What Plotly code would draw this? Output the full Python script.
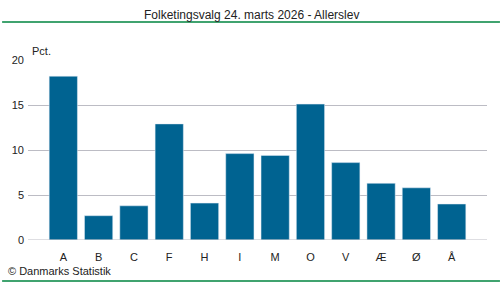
import plotly.graph_objects as go

parties = ["A", "B", "C", "F", "H", "I", "M", "O", "V", "Æ", "Ø", "Å"]
values = [18.2, 2.7, 3.8, 12.9, 4.1, 9.6, 9.4, 15.1, 8.6, 6.3, 5.8, 4.0]
y_ticks = [0, 5, 10, 15, 20]

W, H = 500, 282
ML, MR, MT, MB = 26, 13, 60, 42
PW, PH = W - ML - MR, H - MT - MB

def px_x(px):
    return (px - ML) / PW

def px_y(py):
    return (H - MB - py) / PH

font = "Liberation Sans, Arial, sans-serif"
fig = go.Figure(go.Bar(x=list(range(len(parties))), y=values, marker_color="#006391",
                       width=0.8, hoverinfo="skip"))

fig.update_layout(
    width=W, height=H, margin=dict(l=ML, r=MR, t=MT, b=MB),
    paper_bgcolor="white", plot_bgcolor="white", showlegend=False,
    font=dict(family=font, size=11, color="#222"),
    xaxis=dict(range=[-1, 12], tickmode="array", tickvals=list(range(len(parties))),
               ticktext=parties, showgrid=False, zeroline=False, showline=False,
               ticks="", ticklen=0, ticklabelstandoff=9, tickfont=dict(size=11)),
    yaxis=dict(range=[0, 20], tickvals=y_ticks, showgrid=True, gridcolor="#bcbcc4",
               gridwidth=1, zeroline=False, showline=False, ticks="", ticklabelstandoff=3,
               tickfont=dict(size=11)),
    shapes=[
        dict(type="line", xref="paper", yref="paper", x0=px_x(0), x1=px_x(W),
             y0=px_y(22), y1=px_y(22), line=dict(color="#00843f", width=1.5)),
        dict(type="line", xref="paper", yref="paper", x0=px_x(0), x1=px_x(W),
             y0=px_y(281), y1=px_y(281), line=dict(color="#00843f", width=1.5)),
        dict(type="line", xref="paper", yref="y", x0=0, x1=1, y0=0, y1=0,
             line=dict(color="#bcbcc4", width=1)),
    ],
    annotations=[
        dict(text="Folketingsvalg 24. marts 2026 - Allerslev", xref="paper", yref="paper",
             x=px_x(250), y=px_y(15), xanchor="center", yanchor="middle",
             showarrow=False, font=dict(size=12, color="#222")),
        dict(text="Pct.", xref="paper", yref="paper", x=px_x(28), y=px_y(51),
             xanchor="left", yanchor="middle", showarrow=False, font=dict(size=11)),
        dict(text="© Danmarks Statistik", xref="paper", yref="paper", x=px_x(4),
             y=px_y(271), xanchor="left", yanchor="middle", showarrow=False,
             font=dict(size=11)),
    ],
)

fig.write_html("out.html")
